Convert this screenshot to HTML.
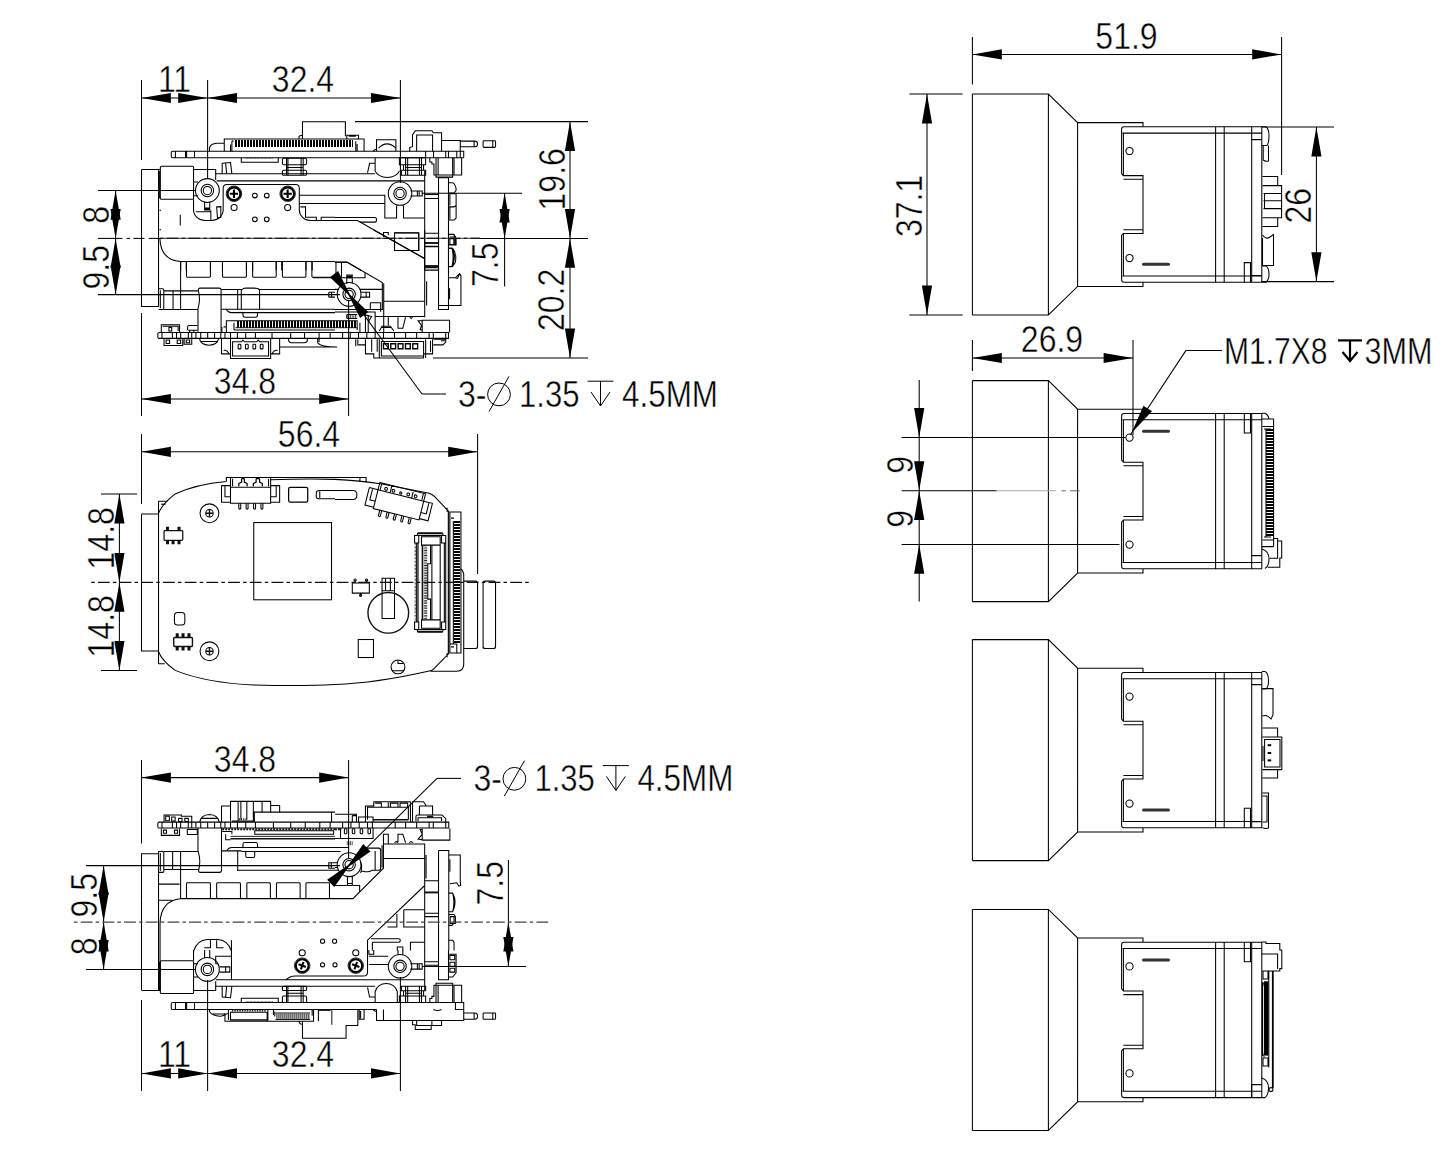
<!DOCTYPE html>
<html lang="en">
<head>
<meta charset="utf-8">
<title>Dimension drawing</title>
<style>
html,body{margin:0;padding:0;background:#fff;}
body{width:1445px;height:1157px;overflow:hidden;}
svg{display:block;}
svg text{font-family:"Liberation Sans","Noto Sans CJK SC",sans-serif;fill:#000;stroke:#fff;stroke-width:0.45px;paint-order:fill stroke;}
.l{fill:none;stroke:#000;}
.f{fill:#000;stroke:none;}
.w{fill:#fff;stroke:#000;}
</style>
</head>
<body>
<svg width="1445" height="1157" viewBox="0 0 1445 1157">
<rect x="0" y="0" width="1445" height="1157" fill="#fff"/>
<!-- 10_v1a.svg -->
<g class="l" transform="translate(135,110) scale(0.138408)" stroke-width="7.6">
<!-- lens flange + front block -->
<path d="M47,430 H180 M47,430 V1420 H170 M170,430 V1420"/>
<rect x="183" y="407" width="240" height="238" rx="8"/>
<path d="M176,440 V640 M183,520 H176 M183,545 H176 M176,725 H188 M176,865 H188"/>
<path d="M423,430 H583 V505 M423,520 H455 M423,620 H455 M423,645 V720 A85,78 0 0 0 508,798 H552 A85,78 0 0 0 637,720 V565 Q637,538 664,538 H1160 Q1187,538 1187,565 V720 A80,78 0 0 0 1267,798 H1445"/>
<circle cx="523" cy="582" r="86"/>
<circle cx="523" cy="582" r="45"/>
<circle cx="523" cy="582" r="30"/>
<path d="M503,665 V722 H540 V665 M503,708 H540 M503,715 H540 M548,725 V798 M440,735 H548 M590,700 L620,698 V775 L596,783 Z"/>
<path d="M327,757 V835"/>
<!-- horizontal rails -->
<path d="M583,460 H1445 M590,512 H1445 M1187,616 H1445 M1187,675 H1445"/>
<path d="M1195,700 H1232 V775 H1310 V798 M1345,798 V775 H1445"/>
<!-- PCB -->
<path d="M272,298 H1445 M272,345 H1445 M272,298 Q262,298 262,308 V335 Q262,345 272,345 M292,300 V343 M365,300 V343 M373,300 V343 M430,300 V343"/>
<!-- connector on top -->
<path d="M645,298 V210 H1445 M538,298 V275 Q545,243 590,240 H645 M690,250 V298 M700,225 V298 M700,225 H712 M1210,210 V85 H1445 M1185,210 V192 Q1190,183 1210,185"/>
<!-- under pcb -->
<path d="M768,345 V378 H1035 V345"/>
<path d="M1075,348 H1230 Q1240,348 1240,358 V385 Q1240,395 1230,395 H1075 Q1065,395 1065,385 V358 Q1065,348 1075,348 Z M1075,435 H1230 Q1240,435 1240,445 V462 Q1240,472 1230,472 H1075 Q1065,472 1065,462 V445 Q1065,435 1075,435 Z M1095,348 V472 M1105,348 V472 M1200,348 V472 M1215,348 V472 M1095,415 H1215"/>
<path d="M630,460 V385 L690,380 L700,460 M655,385 L662,460"/>
<!-- small holes -->
<circle cx="866" cy="618" r="17"/><circle cx="952" cy="618" r="17"/>
<circle cx="866" cy="790" r="17"/><circle cx="952" cy="790" r="17"/>
<circle cx="716" cy="705" r="22"/><circle cx="1103" cy="705" r="22"/>
<!-- inner body -->
<path d="M180,928 Q185,1085 330,1095 H1445"/>
<path d="M330,1095 V1160 M370,1095 V1160 M545,1095 V1160 M632,1095 V1160 M805,1095 V1160 M850,1095 V1160 M1020,1095 V1160 M1060,1095 V1160 M1235,1095 V1160 M1280,1095 V1160"/>
</g>
<!-- comb teeth of top connector -->
<g transform="translate(135,110) scale(0.138408)">
<line x1="722.5" y1="241" x2="1445" y2="241" stroke="#000" stroke-width="47" stroke-dasharray="14.45 7.225" shape-rendering="crispEdges"/>
<line x1="800" y1="349" x2="1000" y2="349" stroke="#333" stroke-width="8" stroke-dasharray="5 5"/>
</g>
<!-- screws -->
<g transform="translate(135,110) scale(0.138408)" fill="none" stroke="#1a1a1a">
<g id="scr1"><circle cx="715" cy="605" r="56" stroke-width="7"/><circle cx="715" cy="605" r="46" stroke-width="15" stroke="#000"/><path d="M715,575 V635 M685,605 H745" stroke-width="15" stroke="#000"/></g>
<g><circle cx="1103" cy="605" r="56" stroke-width="7"/><circle cx="1103" cy="605" r="46" stroke-width="15" stroke="#000"/><path d="M1103,575 V635 M1073,605 H1133" stroke-width="15" stroke="#000"/></g>
</g>
<!-- 11_v1b.svg -->
<g class="l" transform="translate(335,110) scale(0.138408)" stroke-width="7.6">
<!-- top rect right part, connector end -->
<path d="M0,85 H75 V190 M0,210 H210 V298 M85,210 V183 H170 V210 M100,190 H150 M150,225 V298 M160,245 V298"/>
<!-- pcb -->
<path d="M0,298 H930 V345 M0,345 H930 M655,298 V345 M712,298 V345 M800,298 V345 M820,298 V345 M880,298 V345 M905,298 V345"/>
<!-- dome component -->
<path d="M300,298 V215 H440 V298 M275,298 L290,285 H300 M315,275 Q375,215 440,275"/>
<!-- tall component -->
<path d="M540,298 V270 L560,265 V180 L580,150 H700 L710,165 H770 V298 M590,298 V180 H705 V298"/>
<path d="M770,220 H905 V298 M905,225 H1010 Q1030,225 1030,245 Q1030,265 1010,265 H905 M1005,225 V265"/>
<rect x="1070" y="222" width="90" height="48" rx="6"/>
<path d="M1140,222 V270"/>
<!-- below pcb: semicircle -->
<path d="M290,345 V440 A90,62 0 0 0 465,440 M235,455 L250,385 H290 M0,460 H290 M0,512 H648"/>
<!-- standoff -->
<path d="M465,345 H655 V395 H465 Z M480,435 H655 V472 H480 Z M510,345 V472 M525,345 V472 M610,345 V472 M625,345 V472 M495,395 V435 M640,395 V435 M510,415 H625"/>
<!-- right component under pcb -->
<path d="M685,345 V375 H700 V390 H715 V470 H915 V345 M730,345 V485 H850 V345 M745,345 V470 M860,345 V470"/>
<!-- rear plate -->
<path d="M648,440 V1160 M748,490 V1160 M820,490 V1160 M748,490 H820 M648,610 H745 M648,640 H745 M648,890 H745 M648,960 H745 M648,985 H745 M648,1125 H745 M648,1140 H745"/>
<!-- side bumps -->
<path d="M820,525 H850 Q875,540 875,580 L860,600 H820 M820,605 H875 V690 L860,700 H820 M875,690 V780 L860,795 H820 M830,700 V790 M830,610 V690 M820,900 H860 L875,930 V975 H820 M830,930 V975 H860 V930 Z M820,1000 H850 Q880,1030 870,1100 L850,1130 H820 M850,1000 Q870,1050 850,1130"/>
<!-- boss 2 -->
<circle cx="470" cy="603" r="85"/><circle cx="470" cy="603" r="45"/><circle cx="470" cy="603" r="30"/>
<path d="M545,585 H630 V622 H545 M595,585 V622 M608,585 V622"/>
<path d="M0,616 H360 V780 H445 V690 M495,690 V780 H648 M0,675 H360"/>
<path d="M0,776 H290 Q300,776 300,793 Q300,810 290,810 H180 M0,798 H166"/>
<path d="M165,800 L648,1075"/>
<path d="M430,888 H605 V1015 H430 Z M350,920 V885 H385 V905"/>
<path d="M0,1100 H90 L190,1160"/>
</g>
<g transform="translate(335,110) scale(0.138408)">
<line x1="0" y1="241" x2="130" y2="241" stroke="#000" stroke-width="47" stroke-dasharray="14.45 7.225" stroke-dashoffset="7.225" shape-rendering="crispEdges"/>
</g>
<!-- 12_v1c.svg -->
<g class="l" transform="translate(135,230) scale(0.138408)" stroke-width="7.6">
<!-- flange bottom & thread -->
<path d="M47,552 H170 M170,425 H200 Q208,425 208,433 V566 Q208,574 200,574 H170 M183,435 V565 M208,440 H455 M208,574 H455 M275,440 V574 M329.5,232 V574"/>
<!-- windows -->
<path d="M372,232 V335 Q372,342 379,342 H538 Q545,342 545,335 V232 M632,232 V335 Q632,342 639,342 H798 Q805,342 805,335 V232 M850,232 V335 Q850,342 857,342 H1013 Q1020,342 1020,335 V232 M1065,232 V335 Q1065,342 1072,342 H1228 Q1235,342 1235,335 V232 M1278,232 V335 Q1278,342 1285,342 H1445"/>
<!-- post -->
<path d="M455,735 V570 Q475,500 458,440 Q456,420 470,420 H608 Q622,420 622,434 V735"/>
<!-- bar -->
<path d="M622,430 H775 M895,430 H1445 M622,572 H1445 M690,597 H1445 M660,572 Q670,595 700,597 M742,430 V572 M768,430 V572 M775,430 Q780,420 800,420 H860 Q890,420 900,432 V572 M780,597 V615 Q780,630 795,630 H870 Q885,630 885,615 V597"/>
<!-- bottom connector -->
<path d="M660,740 V655 H1445 M715,670 V722 M715,722 H1445 M628,700 V740 M640,700 H655"/>
<!-- pcb bottom -->
<path d="M175,740 H1445 M175,783 H1445 M175,740 Q165,740 165,750 V773 Q165,783 175,783"/>
<path d="M195,740 V783 M270,740 V783 M300,740 V783 M330,740 V783 M385,740 V783 M410,740 V783 M440,740 V783 M475,740 V783 M525,740 V783 M575,740 V783 M620,740 V783 M650,740 V783 M690,740 V783 M740,740 V783 M800,740 V783 M870,740 V783 M990,740 V783 M1125,740 V783 M1225,740 V783 M1330,740 V783 M1410,740 V783"/>
<!-- small comps on pcb -->
<path d="M190,740 V685 H322 V740 M200,695 H312 V730 M245,705 H265 V730 H245 Z M380,725 V700 Q380,690 392,690 H450 M385,725 H450 M395,725 V740 M425,725 V740"/>
<path d="M210,783 V835 H345 V783 M225,795 H250 V820 H225 Z M305,795 H330 V820 H305 Z M355,783 V825 H410 V783 M370,795 H395 V815 H370 Z M465,783 Q475,830 535,832 Q595,830 605,783 M470,805 H600"/>
<!-- JST connector -->
<path d="M625,783 V895 H690 V928 H980 V895 H1045 V783 M690,783 V895 M980,783 V895 M705,910 V808 H770 L780,795 L790,808 H880 L890,795 L900,808 H965 V910 Z M640,870 Q665,865 680,895 M1030,870 Q1005,865 990,895"/>
<rect x="745" y="825" width="20" height="34" rx="5"/><rect x="798" y="825" width="20" height="34" rx="5"/><rect x="852" y="825" width="20" height="34" rx="5"/><rect x="905" y="825" width="20" height="34" rx="5"/>
<path d="M1045,845 H1445 M1110,783 V800 Q1115,815 1130,815 H1225 Q1240,815 1245,800 V783 M1320,783 V815 Q1340,845 1460,845 M1330,783 V810"/>
<!-- right: pin near boss -->
<path d="M1400,450 H1445 M1400,485 H1445 M1400,450 V485 M1420,450 V485"/>
</g>
<g transform="translate(135,230) scale(0.138408)">
<line x1="737" y1="682" x2="1445" y2="682" stroke="#000" stroke-width="46" stroke-dasharray="14.45 7.225" shape-rendering="crispEdges"/>
<line x1="725" y1="706" x2="1445" y2="706" stroke="#1a1a1a" stroke-width="7"/>
</g>
<!-- 13_v1d.svg -->
<g class="l" transform="translate(335,230) scale(0.138408)" stroke-width="7.6">
<!-- diagonal continuing, rect -->
<path d="M280,0 L648,205 M430,20 H605 V148 H430 Z"/>
<!-- rear plate lower part -->
<path d="M648,0 V630 M748,0 V575 H820 V0 M748,545 H820 M648,95 H745 M648,120 H745 M648,290 H745 M662,370 V545"/>
<!-- side bumps / clip -->
<path d="M820,30 H855 L870,50 V105 H820 M830,50 H860 V105 M820,130 H845 Q880,190 845,265 H820 M845,130 Q862,195 845,265 M820,345 H870 L900,315 L910,330 V545 H820 M870,345 L885,350 L900,318 M828,420 V500"/>
<!-- bracket plate with diagonal -->
<path d="M0,232 H85 L342,380 V575 H0 M352,385 V740 M0,592 H290 V740 M47,237 V338 Q47,345 54,345 H217 V310 M-160,345 H0 Q7,345 7,338 V237"/>
<path d="M0,429 H25 M180,429 H342"/>
<!-- boss 3 -->
<circle cx="102" cy="465" r="86"/><circle cx="102" cy="465" r="45"/><circle cx="102" cy="465" r="30"/>
<path d="M185,450 H250 V485 H185 M225,450 V485 M85,388 V325 H125 V388 M85,335 H125 M85,345 H125"/>
<path d="M255,525 H330 V590 M255,525 V575"/>
<!-- block right of bracket -->
<path d="M352,515 H648 M290,625 H648"/>
<path d="M385,625 V690 M455,630 V710 H490 L510,630 M540,630 L550,640 L560,630 M320,730 L340,695 H400 L425,730 M335,705 H405"/>
<!-- connector end -->
<path d="M0,655 H160 V722 M180,670 V740 M220,600 V740 M240,620 V740 M85,610 H160 M85,640 H160 M85,610 V640 M225,615 L265,625 L240,665"/>
<!-- pcb -->
<path d="M0,740 H820 V783 H0 M55,740 V783 M110,740 V783 M170,740 V783 M230,740 V783 M290,740 V783 M350,740 V783 M430,740 V783 M510,740 V783 M590,740 V783 M680,740 V783 M710,740 V783 M800,740 V783"/>
<path d="M630,740 V652 H828 V740 M630,655 H600 L625,690 L615,720 L630,725"/>
<!-- 5 pin connector -->
<path d="M220,790 V895 H280 V925 H640 V895 H705 V790 M150,790 V840 M165,790 V830 H220 M320,790 V925 M655,790 V925 M335,805 H640 V910 H335 Z M265,790 V880 M305,790 V880 M690,800 V880"/>
<path d="M350,822 H385 V858 H350 Z M403,822 H438 V858 H403 Z M456,822 H491 V858 H456 Z M509,822 H544 V858 H509 Z M562,822 H597 V858 H562 Z" stroke-width="10"/>
<path d="M710,790 H800 V810 L780,830 H710 M765,800 H795"/>
</g>
<g transform="translate(335,230) scale(0.138408)">
<line x1="0" y1="682" x2="160" y2="682" stroke="#000" stroke-width="46" stroke-dasharray="14.45 7.225" stroke-dashoffset="14.45" shape-rendering="crispEdges"/>
<line x1="0" y1="706" x2="160" y2="706" stroke="#1a1a1a" stroke-width="7"/>
<line x1="85" y1="625" x2="160" y2="625" stroke="#333" stroke-width="26" stroke-dasharray="6 6"/>
<line x1="648" y1="265" x2="745" y2="265" stroke="#111" stroke-width="18"/>
</g>
<!-- 20_right.svg -->
<g class="l" stroke-width="1.05">
<path class="l" d="M972.4,94.0 H1048.4 L1077.6,122.6 H1143 V126.8 M972.4,315.0 H1048.4 L1077.6,286.4 H1143 V282.2 M972.4,94.0 V315.0 M1048.4,94.0 V315.0 M1077.6,122.6 V286.4 M1262,126.8 H1124 Q1121.6,126.8 1121.6,129.3 V173.5 L1123.4,175.6 H1143 V233.4 H1123.4 L1121.6,235.5 V279.7 Q1121.6,282.2 1124,282.2 H1262 M1122.5,133.1 H1261.8 M1122.5,275.9 H1261.8 M1123.4,133.3 V175.6 M1123.4,233.4 V275.7 M1123.4,179.2 H1143 M1123.4,229.8 H1143 M1215.6,126.8 V282.2 M1224.2,126.8 V282.2 M1251.7,126.8 V282.2 M1261.8,126.8 V282.2"/>
<circle class="l" cx="1129.5" cy="151.0" r="3.6"/>
<circle class="l" cx="1129.5" cy="258.0" r="3.6"/>
<line x1="1143.5" y1="264.3" x2="1168.5" y2="264.3" stroke="#333" stroke-width="3" stroke-linecap="round"/>
<path class="l" d="M1244.3,282.2 V262.6 H1250.5 V282.2"/>
<path class="l" d="M1251.7,139.6 H1261.8 M1261.8,126.8 H1265.5 Q1269,128 1269,136 Q1269,143 1267,145.5 H1261.8 M1263.2,145.5 V160 Q1265,161.6 1268.5,161 V145.5 M1262.5,176.4 H1277.7 V185.6 H1281.6 V217.8 H1277.7 V226.4 H1262.5 M1262.5,185.6 H1277.7 M1262.5,217.8 H1277.7 M1263.5,193.5 H1281.6 M1263.5,200.7 H1281.6 M1263.5,208.6 H1281.6 M1264.5,193.5 V208.6 M1262.5,235 Q1266,240 1270,237 L1273.5,234.5 V265.5 H1262.5 M1262.5,238 V265 M1251.7,275.4 H1261.8 M1261.8,265.9 H1266 Q1269,268 1269,274 Q1269,280 1266,282.3 H1261.8"/>
<path class="l" d="M972.4,380.6 H1048.4 L1077.6,409.2 H1143 V413.4 M972.4,601.6 H1048.4 L1077.6,573.0 H1143 V568.8 M972.4,380.6 V601.6 M1048.4,380.6 V601.6 M1077.6,409.2 V573.0 M1262,413.4 H1124 Q1121.6,413.4 1121.6,415.9 V460.1 L1123.4,462.2 H1143 V520.0 H1123.4 L1121.6,522.1 V566.3 Q1121.6,568.8 1124,568.8 H1262 M1122.5,419.7 H1261.8 M1122.5,562.5 H1261.8 M1123.4,419.9 V462.2 M1123.4,520.0 V562.3 M1123.4,465.8 H1143 M1123.4,516.4 H1143 M1215.6,413.4 V568.8 M1224.2,413.4 V568.8 M1251.7,413.4 V568.8 M1261.8,413.4 V568.8"/>
<circle class="l" cx="1129.5" cy="437.6" r="3.6"/>
<circle class="l" cx="1129.5" cy="544.6" r="3.6"/>
<line x1="1143.5" y1="431.3" x2="1168.5" y2="431.3" stroke="#333" stroke-width="3" stroke-linecap="round"/>
<path class="l" d="M1244.3,413.4 V433.0 H1250.5 V413.4"/>
<path class="l" d="M1261.8,413.2 H1265 Q1268.5,415 1269,419 H1273.6 V546.6 M1261.8,419 H1269 M1262.5,426.5 H1273.6 M1264,429 H1271 M1266,429 V537 M1262.5,540 H1273.6 M1264,537 H1271 M1273.6,538.5 H1277.6 V541 H1281.7 V558 H1279.8 V567.3 H1267.6 M1261.8,546.6 H1273.6 M1277.6,541 V558.2 H1269.8 M1261.8,549 Q1269,551 1269,559 Q1269,566 1265,568.5 M1251.7,555.6 H1261.8"/>
<line x1="1269.8" y1="429" x2="1269.8" y2="537" stroke="#000" stroke-width="7.4" stroke-dasharray="2 1" shape-rendering="crispEdges"/>
<path class="l" d="M972.4,639.6 H1048.4 L1077.6,668.2 H1143 V672.4 M972.4,860.6 H1048.4 L1077.6,832.0 H1143 V827.8 M972.4,639.6 V860.6 M1048.4,639.6 V860.6 M1077.6,668.2 V832.0 M1262,672.4 H1124 Q1121.6,672.4 1121.6,674.9 V719.1 L1123.4,721.2 H1143 V779.0 H1123.4 L1121.6,781.1 V825.3 Q1121.6,827.8 1124,827.8 H1262 M1122.5,678.7 H1261.8 M1122.5,821.5 H1261.8 M1123.4,678.9 V721.2 M1123.4,779.0 V821.3 M1123.4,724.8 H1143 M1123.4,775.4 H1143 M1215.6,672.4 V827.8 M1224.2,672.4 V827.8 M1251.7,672.4 V827.8 M1261.8,672.4 V827.8"/>
<circle class="l" cx="1129.5" cy="696.6" r="3.6"/>
<circle class="l" cx="1129.5" cy="803.6" r="3.6"/>
<line x1="1143.5" y1="809.9" x2="1168.5" y2="809.9" stroke="#333" stroke-width="3" stroke-linecap="round"/>
<path class="l" d="M1244.3,827.8 V808.2 H1250.5 V827.8"/>
<path class="l" d="M1251.7,684.6 H1261.8 M1261.8,671.5 H1265 Q1268.5,673 1268.5,681 Q1268.5,687 1266,689 H1261.8 M1262.4,688.6 H1273 V715 L1271,719 Q1267,714 1262.4,716 M1262.4,728 H1277.6 V737 H1281.8 V769.6 H1277.6 V778 H1262.4 M1262.4,737 H1277.6 M1262.4,769.6 H1277.6 M1264.6,739.5 H1280 V767 H1264.6 Z M1263,746 V761 M1262.4,793 H1268.5 V828 Q1265,829 1262.4,827.6 M1262.4,796 H1267 V822 H1262.4 M1251.7,821.6 H1261.8"/>
<rect class="f" x="1267.6" y="744.2" width="3.6" height="2"/>
<rect class="f" x="1267.6" y="752.0" width="3.6" height="2"/>
<rect class="f" x="1267.6" y="759.4" width="3.6" height="2"/>
<path class="l" d="M972.4,909.4 H1048.4 L1077.6,938.0 H1143 V942.2 M972.4,1130.4 H1048.4 L1077.6,1101.8 H1143 V1097.6 M972.4,909.4 V1130.4 M1048.4,909.4 V1130.4 M1077.6,938.0 V1101.8 M1262,942.2 H1124 Q1121.6,942.2 1121.6,944.7 V988.9 L1123.4,991.0 H1143 V1048.8 H1123.4 L1121.6,1050.9 V1095.1 Q1121.6,1097.6 1124,1097.6 H1262 M1122.5,948.5 H1261.8 M1122.5,1091.3 H1261.8 M1123.4,948.7 V991.0 M1123.4,1048.8 V1091.1 M1123.4,994.6 H1143 M1123.4,1045.2 H1143 M1215.6,942.2 V1097.6 M1224.2,942.2 V1097.6 M1251.7,942.2 V1097.6 M1261.8,942.2 V1097.6"/>
<circle class="l" cx="1129.5" cy="966.4" r="3.6"/>
<circle class="l" cx="1129.5" cy="1073.4" r="3.6"/>
<line x1="1143.5" y1="960.1" x2="1168.5" y2="960.1" stroke="#333" stroke-width="3" stroke-linecap="round"/>
<path class="l" d="M1244.3,942.2 V961.8 H1250.5 V942.2"/>
<path class="l" d="M1261.8,942 H1266 V943.4 H1279.8 V950 H1281.8 V968.6 H1279.8 V971 H1262.4 M1261.8,954 H1277.6 V969 M1263,971 H1268 V979 H1263 Z M1263,1058 H1268 V1066 H1263 Z M1262.4,982 V1056 M1264.4,982 Q1262.6,984 1262.6,987 V1052 Q1262.6,1055 1264.4,1057 M1268.8,971 V1067.4 M1261.8,1078 Q1268.5,1080 1268.5,1088 Q1268.5,1095 1265,1097.6 H1261.8 M1251.7,1084.6 H1261.8 M1251.7,1084.6 V1097"/>
<line x1="1272.8" y1="971" x2="1272.8" y2="1088" stroke="#000" stroke-width="1.8"/>
<rect class="f" x="1264" y="981.3" width="4.4" height="74.3"/>
<circle class="w" cx="1271" cy="1089.6" r="2"/>
</g>
<!-- 30_v3a.svg -->
<g class="l" transform="translate(135,790) scale(0.138408)" stroke-width="7.6">
<!-- flange, thread -->
<path d="M47,1445 V460 H170 M170,440 V1445 M181,960 V1445 M170,445 H200 Q208,445 208,453 V587 Q208,595 200,595 H170 M183,455 V585 M208,445 H455 M208,575 H460 M272,445 V575 M329.5,441 V785 M170,680 H322 M170,797 H270"/>
<!-- inner curve & windows -->
<path d="M181,960 Q186,800 330,785 H1445"/>
<path d="M372,785 V677 Q372,670 379,670 H538 Q545,670 545,677 V785 M590,785 V677 Q590,670 597,670 H755 Q762,670 762,677 V785 M808,785 V677 Q808,670 815,670 H971 Q978,670 978,677 V785 M1022,785 V677 Q1022,670 1029,670 H1186 Q1193,670 1193,677 V785 M1235,785 V677 Q1235,670 1242,670 H1398 Q1405,670 1405,677 V785"/>
<!-- post -->
<path d="M455,275 V440 Q478,510 460,580 Q458,595 472,595 H610 Q625,595 625,580 V275"/>
<!-- bars -->
<path d="M625,440 H770 M665,440 Q672,417 700,415 H1445 M770,445 H1445 M745,580 H1445 M742,440 V585 M780,415 V390 Q780,380 792,380 H873 Q885,380 885,390 V415 M800,445 V475 Q800,488 812,488 H853 Q865,488 865,475 V445"/>
<!-- pcb -->
<path d="M175,232 H1445 M175,275 H1445 M175,232 Q165,232 165,242 V265 Q165,275 175,275"/>
<path d="M195,232 V275 M270,232 V275 M300,232 V275 M330,232 V275 M385,232 V275 M410,232 V275 M440,232 V275 M475,232 V275 M525,232 V275 M575,232 V275 M620,232 V275 M650,232 V275 M690,232 V275 M740,232 V275 M800,232 V275 M870,232 V275 M1000,232 V275 M1125,232 V275 M1230,232 V275 M1335,232 V275 M1410,232 V275"/>
<!-- comps above pcb -->
<path d="M210,232 V180 H335 V190 H410 V232 M222,190 H248 V222 H222 Z M265,195 H290 V225 H265 Z M315,205 H340 V228 H315 Z M360,205 H385 V228 H360 Z M468,232 Q475,180 538,177 Q600,180 608,232 M475,205 H600"/>
<path d="M625,232 V115 H690 V82 H980 V112 H1045 V160 M690,115 V225 M745,85 V225 M765,85 V215 M808,85 V215 M855,85 V225 M918,85 V160 M980,112 V160 M862,232 V160 H1420 V232 M700,225 H855"/>
<!-- under pcb -->
<path d="M190,280 V328 H322 V280 M205,290 H228 V312 H205 Z M285,290 H308 V312 H285 Z M378,322 V285 H450 V322 Z M630,300 H700 V320 M655,320 V360 H690 M865,295 H1435 V320 H865 Z"/>
<!-- boss pin -->
<path d="M1445,525 H1400 V565 H1445 M1418,525 V565"/>
<!-- bracket top (U) -->
<path d="M425,1160 Q450,1085 520,1080 H600 Q670,1085 695,1160 M545,1080 V1140 H500 M590,1085 V1140 H640"/>
<circle cx="1355" cy="1092" r="15"/>
</g>
<g transform="translate(135,790) scale(0.138408)">
<line x1="630" y1="284" x2="1445" y2="284" stroke="#111" stroke-width="14" stroke-dasharray="14 7.7"/>
<line x1="690" y1="352" x2="1445" y2="352" stroke="#111" stroke-width="12"/>
<line x1="690" y1="335" x2="1445" y2="335" stroke="#1a1a1a" stroke-width="7"/>
<line x1="750" y1="212" x2="810" y2="212" stroke="#222" stroke-width="14" stroke-dasharray="8 8"/>
</g>
<!-- 31_v3b.svg -->
<g class="l" transform="translate(335,790) scale(0.138408)" stroke-width="7.6">
<!-- pcb -->
<path d="M0,232 H822 V275 H0 M55,232 V275 M115,232 V275 M175,232 V275 M235,232 V275 M270,232 V275 M435,232 V275 M510,232 V275 M590,232 V275 M680,232 V275 M710,232 V275 M800,232 V275"/>
<!-- above pcb -->
<path d="M0,160 H-25 M0,175 H155 V232 M125,185 V232 M125,185 H155 M170,232 V195 H275 V232"/>
<path d="M220,232 V115 H280 V85 H545 V232 M235,215 V125 H530 V215 M335,90 V125 M385,90 V125 M400,90 V125 M455,90 V125 M470,90 V125 M525,90 V125 M290,95 H335 M400,95 H455 M470,95 H525"/>
<path d="M560,232 V85 H640 L660,115 H705 V180 M610,115 V180 M610,115 H660 M585,225 V190 Q585,180 597,180 H770 Q780,180 782,190 L800,205 V232 M600,225 V200 H770 V225"/>
<!-- under pcb -->
<path d="M0,350 H275 V275 M40,275 V350 M350,390 V320 H385 V390 M455,380 V320 H490 L510,380 M430,380 L445,372 L455,380 M535,380 L550,372 L565,380"/>
<path d="M630,278 V362 H830 V278 M630,285 H615 L630,320 L600,355 L630,360"/>
<rect x="68" y="280" width="18" height="36" rx="6"/><rect x="125" y="280" width="18" height="36" rx="6"/><rect x="182" y="280" width="18" height="36" rx="6"/><rect x="238" y="280" width="18" height="36" rx="6"/>
<path d="M0,415 H100 M0,445 H40 M0,580 H25"/>
<!-- boss -->
<circle cx="102" cy="540" r="86"/><circle cx="102" cy="540" r="45"/><circle cx="102" cy="540" r="30"/>
<path d="M90,622 V690 H125 V622 M90,675 H125 M0,525 H22 M0,560 H22"/>
<path d="M230,420 H315 Q330,420 330,435 V565 Q330,580 315,580 H265 Q250,595 220,590 L190,585 M290,440 V580 M185,600 Q200,560 185,520"/>
<!-- bracket small diagonal -->
<path d="M0,690 H85 M130,690 H178 V740 M0,785 H130 L350,565 V390 M340,400 V560"/>
<!-- block -->
<path d="M350,390 H648 V690 M350,495 H648 M658,470 V640"/>
<!-- big diagonal -->
<path d="M648,690 L235,1085 V1160 M270,1100 V1160 M260,1075 H460 Q472,1075 472,1088 Q472,1100 460,1100 H270"/>
<!-- rear plate -->
<path d="M648,690 V1160 M748,437 V1160 M748,437 H822 V1160 M648,655 H745 M648,890 H745 M648,915 H745"/>
<!-- clip and side bumps -->
<path d="M822,470 H905 V660 L908,690 L895,695 L880,670 L830,678 M830,500 V590 M822,745 H850 Q885,812 850,880 H822 M850,745 Q868,812 850,880 M822,900 H860 L870,915 V965 H855 L845,978 H822 M832,915 H860 V965 H832 Z M822,1085 H850 L860,1100 V1160"/>
<circle cx="-3" cy="1092" r="15"/>
<!-- rects -->
<path d="M497,865 H648 M497,865 V990 H648 M447,895 V990 H380 M545,1160 V1100 H648 M450,1160 V1135 H490 V1160"/>
</g>
<g transform="translate(335,790) scale(0.138408)">
<line x1="275" y1="215" x2="530" y2="215" stroke="#111" stroke-width="12"/>
<line x1="648" y1="740" x2="745" y2="740" stroke="#111" stroke-width="14"/>
<line x1="85" y1="385" x2="130" y2="385" stroke="#333" stroke-width="28" stroke-dasharray="6 6"/>
<line x1="0" y1="284" x2="45" y2="284" stroke="#111" stroke-width="14" stroke-dasharray="14 7.7"/>
<line x1="665" y1="192" x2="710" y2="192" stroke="#111" stroke-width="14"/>
</g>
<!-- 32_v3c.svg -->
<g class="l" transform="translate(135,950) scale(0.138408)" stroke-width="7.6">
<!-- flange + block -->
<path d="M47,293 H183 M176,85 V290"/>
<rect x="183" y="77" width="240" height="238" rx="8"/>
<path d="M423,293 H583 V225 M423,100 H455 M423,195 H455 M423,77 V0 M583,100 V45 H697 M583,100 H600 M697,-70 V215 H1090 L1120,195 Q1135,188 1160,188 H1445 M1090,215 H1445"/>
<circle cx="523" cy="140" r="86"/><circle cx="523" cy="140" r="45"/><circle cx="523" cy="140" r="30"/>
<path d="M610,122 H685 V160 H610 M655,122 V160 M503,58 V0 M540,58 V0"/>
<!-- rails -->
<path d="M583,262 H1445 M583,215 H697"/>
<!-- pcb -->
<path d="M272,380 H1445 M272,430 H1445 M272,380 Q262,380 262,390 V420 Q262,430 272,430 M292,382 V428 M365,382 V428 M373,382 V428 M430,382 V428"/>
<!-- bracket, rect, standoff -->
<path d="M630,262 V340 L690,345 L700,262 M655,340 L662,262 M768,380 V348 H1035 V380"/>
<path d="M1075,262 H1230 Q1240,262 1240,270 V285 Q1240,293 1230,293 H1075 Q1065,293 1065,285 V270 Q1065,262 1075,262 Z M1075,333 H1230 Q1240,333 1240,343 V380 H1065 V343 Q1065,333 1075,333 Z M1095,262 V380 M1105,262 V380 M1200,262 V380 M1215,262 V380 M1095,312 H1215"/>
<!-- under pcb -->
<path d="M538,430 V445 Q560,480 620,478 Q660,470 670,455 M560,462 H650"/>
<path d="M650,455 V515 H960 V430 M675,430 V505 M690,450 H955 V505 H690 Z M1000,430 V470 M1010,445 V480 M1280,430 V475 M1290,430 V515 H960 M1185,515 Q1190,540 1210,535 M1210,515 V638 H1445 M1325,430 V515"/>
<!-- holes -->
<circle cx="1208" cy="20" r="22"/><circle cx="1355" cy="107" r="15"/>
</g>
<g transform="translate(135,950) scale(0.138408)" fill="none" stroke="#1a1a1a">
<line x1="800" y1="374" x2="1000" y2="374" stroke="#333" stroke-width="8" stroke-dasharray="5 5"/>
<line x1="700" y1="438" x2="950" y2="438" stroke="#222" stroke-width="12" stroke-dasharray="10 8"/>
<line x1="1022" y1="478" x2="1262" y2="478" stroke="#111" stroke-width="40" stroke-dasharray="7.2 7.2"/>
<path d="M1015,455 H1265 M1015,502 H1265" stroke-width="8"/>
<line x1="1325" y1="434" x2="1412" y2="434" stroke="#111" stroke-width="12"/>
<line x1="1422" y1="430" x2="1422" y2="540" stroke="#1a1a1a" stroke-width="7.6"/>
<circle cx="1208" cy="113" r="56" stroke-width="7"/><circle cx="1208" cy="113" r="46" stroke-width="15" stroke="#000"/><path d="M1208,85 V141 M1180,113 H1236" stroke-width="15" stroke="#000" transform="rotate(20 1208 113)"/>
</g>
<!-- 33_v3d.svg -->
<g class="l" transform="translate(335,950) scale(0.138408)" stroke-width="7.6">
<!-- bracket end + rails -->
<path d="M0,188 H205 Q235,188 235,160 V0 M0,215 H650 M0,262 H290 M245,45 H385 M245,105 H385 M245,0 V30 H280 V0"/>
<circle cx="150" cy="20" r="22"/><circle cx="0" cy="107" r="15"/>
<!-- boss -->
<circle cx="470" cy="118" r="85"/><circle cx="470" cy="118" r="45"/><circle cx="470" cy="118" r="30"/>
<path d="M545,100 H630 V138 H545 M595,100 V138 M608,100 V138 M455,35 V0 M490,35 V0"/>
<!-- arch -->
<path d="M290,380 V300 A82,75 0 0 1 450,300 V380 M235,270 L250,340 H290"/>
<!-- standoff -->
<path d="M465,333 H655 V380 H465 Z M480,262 H655 V295 H480 Z M510,262 V380 M525,262 V380 M610,262 V380 M625,262 V380 M495,295 V333 M640,295 V333 M510,312 H625"/>
<!-- right comp -->
<path d="M685,380 V350 H700 V335 H715 V255 H915 V380 M730,380 V240 H850 V380 M745,255 V380 M860,255 V380"/>
<!-- rear plate -->
<path d="M648,0 V290 M748,0 V215 H820 V0 M648,85 H745 M648,110 H745"/>
<path d="M820,30 H875 V165 L850,195 H820 M830,40 H865 V70 H830 Z M830,88 H865 V118 H830 Z M830,132 H865 V160 H830 Z"/>
<!-- pcb + block -->
<path d="M0,380 H930 V510 H300 V430 M0,430 H300 M350,430 V510 M870,380 V430 H930 M275,430 L290,442 H300 M710,430 Q740,445 770,430"/>
<path d="M930,455 H1010 Q1030,455 1030,478 Q1030,500 1010,500 H930 M1005,455 V500"/>
<rect x="1070" y="455" width="90" height="46" rx="6"/>
<path d="M1140,455 V501"/>
<path d="M0,638 H80 V545 H165 V430 M175,430 V500 H210 V430 M185,440 V495 M560,510 V540 H580 V575 H695 V545 H770 V510 M590,510 V545 H700 V510"/>
</g>
<g transform="translate(335,950) scale(0.138408)" fill="none" stroke="#1a1a1a">
<circle cx="150" cy="113" r="56" stroke-width="7"/><circle cx="150" cy="113" r="46" stroke-width="15" stroke="#000"/><path d="M150,85 V141 M122,113 H178" stroke-width="15" stroke="#000" transform="rotate(20 150 113)"/>
</g>
<!-- 40_v2.svg -->
<g class="l" transform="translate(135,460) scale(0.138408)" stroke-width="7.6">
<!-- lens front + back strip -->
<path d="M47,390 H170 M47,390 V1380 H170 M170,298 V1472 M170,298 H235 M170,1472 H215"/>
<!-- pcb outline -->
<path d="M170,385 Q195,320 290,245 Q440,175 660,155 M170,1385 Q195,1450 290,1520 Q520,1612 860,1625 Q1200,1635 1445,1622 M660,155 V127 H1445 M980,142 Q1250,135 1445,140"/>
<!-- JST top -->
<path d="M690,127 V312 H980 V127 M690,197 H980 M705,135 V190 M965,135 V190 M625,185 H690 M625,185 V305 H690 M650,190 V265 H690 M980,185 H1045 V305 H980 M1020,190 V265 H980"/>
<path d="M750,190 V170 L770,160 V135 M790,135 V160 L810,170 V190 M855,190 V170 L875,160 V135 M900,135 V160 L920,170 V190 M770,135 H790 M875,135 H900" stroke-width="9"/>
<path d="M750,312 V350 Q757,360 764,350 V312 M803,312 V350 Q810,360 817,350 V312 M857,312 V350 Q864,360 871,350 V312 M910,312 V350 Q917,360 924,350 V312"/>
<!-- screw holes -->
<circle cx="538" cy="385" r="68"/><circle cx="538" cy="385" r="27"/>
<circle cx="538" cy="1382" r="68"/><circle cx="538" cy="1382" r="27"/>
<!-- big square -->
<rect x="858" y="452" width="562" height="558"/>
<rect x="1110" y="197" width="138" height="108" rx="12" stroke-width="9"/>
<path d="M1445,220 H1335 Q1310,220 1310,235 V265 Q1310,280 1335,280 H1445 M1335,225 V275"/>
<rect x="285" y="1102" width="75" height="90" rx="22"/>
</g>
<g transform="translate(135,460) scale(0.138408)" fill="none" stroke="#111">
<path d="M538,360 V410 M513,385 H563 M538,1357 V1407 M513,1382 H563" stroke-width="10"/>
<!-- IC top-left -->
<rect x="210" y="510" width="135" height="70" rx="6" stroke-width="9"/>
<path d="M235,482 V510 M318,482 V510 M235,580 V608 M275,580 V608 M318,580 V608" stroke-width="22"/>
<!-- IC bottom-left -->
<rect x="280" y="1282" width="135" height="65" rx="6" stroke-width="10"/>
<path d="M305,1252 V1282 M347,1252 V1282 M390,1252 V1282 M305,1347 V1377 M347,1347 V1377 M390,1347 V1377" stroke-width="22"/>
<path d="M190,320 H220" stroke-width="10"/>
</g>
<g class="l" transform="translate(335,460) scale(0.138408)" stroke-width="7.6">
<!-- top edges -->
<path d="M0,127 H225 V160 M180,127 V155 M0,140 Q180,148 330,172 L680,240 Q705,250 720,265 L820,370 V1400 L710,1512 Q700,1522 680,1525 Q300,1612 0,1622 M810,345 V375 M810,1395 V1425"/>
<path d="M0,220 H135 Q158,225 158,252 Q158,280 135,285 H0"/>
<!-- outer shell right-bottom -->
<path d="M690,1527 H880 Q930,1522 930,1477 V825 Q925,795 905,785"/>
<!-- right edge connector -->
<path d="M830,375 H910 V1395 H830 Z M830,375 V1395 M838,420 H860 M838,1350 H860 M855,440 V1330 M830,1330 H880 V1395"/>
<!-- two rounded rects -->
<path d="M930,875 H1015 Q1030,875 1030,890 V1345 Q1030,1362 1015,1362 H930 M1070,1362 V890 Q1070,875 1085,875 H1145 Q1160,875 1160,890 V1345 Q1160,1362 1145,1362 H1085 Q1070,1362 1070,1345"/>
<!-- tilted connector -->
<g transform="translate(465,300) rotate(14)">
<path d="M-170,-100 H170 V95 H-170 Z M-170,-45 H170 M-155,-95 V-50 M155,-95 V-50 M-80,-100 V-45 M80,-100 V-45 M-235,-45 H-170 M-235,-45 V85 H-170 M-210,-40 V40 H-170 M170,-45 H235 V85 H170 M210,-40 V40 H170"/>
<path d="M-122,95 V135 Q-115,145 -108,135 V95 M-67,95 V135 Q-60,145 -53,135 V95 M-12,95 V135 Q-5,145 2,135 V95 M43,95 V135 Q50,145 57,135 V95 M98,95 V135 Q105,145 112,135 V95"/>
<circle cx="-115" cy="-65" r="10"/><circle cx="-60" cy="-65" r="10"/><circle cx="-5" cy="-62" r="8"/><circle cx="50" cy="-65" r="10"/><circle cx="105" cy="-65" r="10"/>
</g>
<!-- FPC connector -->
<path d="M605,525 H770 Q780,525 780,535 V545 H595 V535 Q595,525 605,525 Z M575,545 H605 V600 H575 Z M770,545 H800 V600 H770 Z M625,555 H760 V615 H625 Z M590,600 V1170 M600,600 V1170 M690,615 V750 H670 V1005 H690 V1155 M700,615 V1155 M760,615 V1155 M790,600 V1170 M800,600 V1170"/>
<path d="M605,1245 H770 Q780,1245 780,1235 V1225 H595 V1235 Q595,1245 605,1245 Z M575,1225 H605 V1170 H575 Z M770,1225 H800 V1170 H770 Z M625,1215 H760 V1155 H625 Z"/>
<!-- small comp -->
<path d="M125,888 H248 V962 H125 Z M145,868 V888 M228,868 V888 M185,962 V980"/>
<circle cx="145" cy="868" r="8"/><circle cx="228" cy="868" r="8"/><circle cx="185" cy="978" r="8"/>
<!-- crystal -->
<path d="M340,855 H430 V1145 H340 Z M365,855 V945 M400,855 V945 M340,945 H430"/>
<rect x="168" y="1297" width="110" height="130"/>
<circle cx="455" cy="1495" r="50"/>
<path d="M412,1522 H498 M455,1447 V1470 H495"/>
</g>
<g transform="translate(335,460) scale(0.138408)" fill="none" stroke="#111">
<circle cx="385" cy="1104" r="147" stroke-width="10"/>
<line x1="882" y1="440.7" x2="882" y2="1330" stroke="#000" stroke-width="44" stroke-dasharray="14.45 7.225" shape-rendering="crispEdges"/>
<line x1="632" y1="615" x2="632" y2="1155" stroke-width="12"/>
<line x1="655" y1="615" x2="655" y2="1155" stroke-width="22" stroke-dasharray="6 6" stroke="#222"/>
<line x1="580" y1="600" x2="580" y2="1170" stroke-width="10" stroke-dasharray="5 5" stroke="#333"/>
<path d="M598,532 H778 M598,1238 H778" stroke-width="10"/>
<path d="M820,370 V1400" stroke-width="10"/>
</g>
<!-- 50_dims.svg -->
<g class="l" stroke-width="1.05">
<line x1="141.5" y1="80.0" x2="141.5" y2="160.0"/>
<line x1="207.6" y1="80.0" x2="207.6" y2="178.0"/>
<line x1="400.4" y1="80.0" x2="400.4" y2="183.0"/>
<line x1="141.5" y1="98.0" x2="400.4" y2="98.0"/>
<polygon class="f" points="141.5,98.0 170.9,103.1 170.9,92.9"/>
<polygon class="f" points="207.6,98.0 178.2,92.9 178.2,103.1"/>
<polygon class="f" points="207.6,98.0 237.0,103.1 237.0,92.9"/>
<polygon class="f" points="400.4,98.0 371.0,92.9 371.0,103.1"/>
<line x1="98.0" y1="190.4" x2="196.0" y2="190.4"/>
<line x1="98.0" y1="294.6" x2="340.0" y2="294.6"/>
<line x1="115.6" y1="190.4" x2="115.6" y2="294.6"/>
<polygon class="f" points="115.6,190.4 110.5,219.8 120.7,219.8"/>
<polygon class="f" points="115.6,238.4 120.7,209.0 110.5,209.0"/>
<polygon class="f" points="115.6,238.4 110.5,267.8 120.7,267.8"/>
<polygon class="f" points="115.6,294.6 120.7,265.2 110.5,265.2"/>
<line x1="422.0" y1="193.2" x2="522.0" y2="193.2"/>
<line x1="504.6" y1="193.2" x2="504.6" y2="286.6"/>
<polygon class="f" points="504.6,193.2 499.5,222.6 509.7,222.6"/>
<polygon class="f" points="504.6,238.4 509.7,209.0 499.5,209.0"/>
<line x1="355.0" y1="121.6" x2="588.0" y2="121.6"/>
<line x1="433.0" y1="358.0" x2="588.0" y2="358.0"/>
<line x1="570.0" y1="121.6" x2="570.0" y2="358.0"/>
<polygon class="f" points="570.0,121.6 564.9,151.0 575.1,151.0"/>
<polygon class="f" points="570.0,238.4 575.1,209.0 564.9,209.0"/>
<polygon class="f" points="570.0,238.4 564.9,267.8 575.1,267.8"/>
<polygon class="f" points="570.0,358.0 575.1,328.6 564.9,328.6"/>
<line x1="141.5" y1="313.0" x2="141.5" y2="416.0"/>
<line x1="348.6" y1="300.0" x2="348.6" y2="416.0"/>
<line x1="141.5" y1="399.0" x2="348.6" y2="399.0"/>
<polygon class="f" points="141.5,399.0 170.9,404.1 170.9,393.9"/>
<polygon class="f" points="348.6,399.0 319.2,393.9 319.2,404.1"/>
<line x1="349.1" y1="294.6" x2="422.0" y2="394.0"/>
<line x1="422.0" y1="394.0" x2="446.0" y2="394.0"/>
<polygon class="f" points="346.7,291.4 360.1,318.1 368.3,312.0"/>
<polygon class="f" points="351.5,297.8 338.1,271.1 329.9,277.2"/>
<line x1="141.5" y1="434.0" x2="141.5" y2="504.0"/>
<line x1="477.6" y1="434.0" x2="477.6" y2="574.0"/>
<line x1="141.5" y1="451.8" x2="477.6" y2="451.8"/>
<polygon class="f" points="141.5,451.8 170.9,456.9 170.9,446.7"/>
<polygon class="f" points="477.6,451.8 448.2,446.7 448.2,456.9"/>
<line x1="101.0" y1="494.0" x2="137.0" y2="494.0"/>
<line x1="101.0" y1="670.4" x2="137.0" y2="670.4"/>
<line x1="119.4" y1="494.0" x2="119.4" y2="670.4"/>
<polygon class="f" points="119.4,494.0 114.3,523.4 124.5,523.4"/>
<polygon class="f" points="119.4,582.4 124.5,553.0 114.3,553.0"/>
<polygon class="f" points="119.4,582.4 114.3,611.8 124.5,611.8"/>
<polygon class="f" points="119.4,670.4 124.5,641.0 114.3,641.0"/>
<line x1="141.5" y1="760.0" x2="141.5" y2="843.6"/>
<line x1="348.6" y1="760.0" x2="348.6" y2="858.0"/>
<line x1="141.5" y1="777.6" x2="348.6" y2="777.6"/>
<polygon class="f" points="141.5,777.6 170.9,782.7 170.9,772.5"/>
<polygon class="f" points="348.6,777.6 319.2,772.5 319.2,782.7"/>
<line x1="86.0" y1="865.6" x2="340.0" y2="865.6"/>
<line x1="86.0" y1="969.4" x2="196.0" y2="969.4"/>
<line x1="103.6" y1="865.6" x2="103.6" y2="969.4"/>
<polygon class="f" points="103.6,865.6 98.5,895.0 108.7,895.0"/>
<polygon class="f" points="103.6,922.0 108.7,892.6 98.5,892.6"/>
<polygon class="f" points="103.6,922.0 98.5,951.4 108.7,951.4"/>
<polygon class="f" points="103.6,969.4 108.7,940.0 98.5,940.0"/>
<line x1="508.4" y1="860.0" x2="508.4" y2="966.4"/>
<line x1="422.0" y1="966.4" x2="526.0" y2="966.4"/>
<polygon class="f" points="508.4,922.0 503.3,951.4 513.5,951.4"/>
<polygon class="f" points="508.4,966.4 513.5,937.0 503.3,937.0"/>
<line x1="141.5" y1="1000.0" x2="141.5" y2="1091.0"/>
<line x1="207.6" y1="980.0" x2="207.6" y2="1091.0"/>
<line x1="400.4" y1="977.0" x2="400.4" y2="1091.0"/>
<line x1="141.5" y1="1073.4" x2="400.4" y2="1073.4"/>
<polygon class="f" points="141.5,1073.4 170.9,1078.5 170.9,1068.3"/>
<polygon class="f" points="207.6,1073.4 178.2,1068.3 178.2,1078.5"/>
<polygon class="f" points="207.6,1073.4 237.0,1078.5 237.0,1068.3"/>
<polygon class="f" points="400.4,1073.4 371.0,1068.3 371.0,1078.5"/>
<line x1="348.6" y1="865.6" x2="437.0" y2="778.4"/>
<line x1="437.0" y1="778.4" x2="461.0" y2="778.4"/>
<polygon class="f" points="346.0,868.4 370.5,851.4 363.3,844.1"/>
<polygon class="f" points="351.6,862.8 327.1,879.8 334.3,887.1"/>
<line x1="972.4" y1="37.0" x2="972.4" y2="84.4"/>
<line x1="1281.6" y1="37.0" x2="1281.6" y2="175.0"/>
<line x1="972.4" y1="54.4" x2="1281.6" y2="54.4"/>
<polygon class="f" points="972.4,54.4 1001.8,59.5 1001.8,49.3"/>
<polygon class="f" points="1281.6,54.4 1252.2,49.3 1252.2,59.5"/>
<line x1="909.4" y1="94.0" x2="962.6" y2="94.0"/>
<line x1="909.4" y1="315.0" x2="962.6" y2="315.0"/>
<line x1="927.0" y1="94.0" x2="927.0" y2="315.0"/>
<polygon class="f" points="927.0,94.0 921.9,123.4 932.1,123.4"/>
<polygon class="f" points="927.0,315.0 932.1,285.6 921.9,285.6"/>
<line x1="1262.0" y1="127.0" x2="1334.0" y2="127.0"/>
<line x1="1262.0" y1="281.6" x2="1334.0" y2="281.6"/>
<line x1="1316.4" y1="127.0" x2="1316.4" y2="281.6"/>
<polygon class="f" points="1316.4,127.0 1311.3,156.4 1321.5,156.4"/>
<polygon class="f" points="1316.4,281.6 1321.5,252.2 1311.3,252.2"/>
<line x1="972.4" y1="340.0" x2="972.4" y2="371.0"/>
<line x1="1133.0" y1="340.0" x2="1133.0" y2="435.0"/>
<line x1="972.4" y1="358.0" x2="1133.0" y2="358.0"/>
<polygon class="f" points="972.4,358.0 1001.8,363.1 1001.8,352.9"/>
<polygon class="f" points="1133.0,358.0 1103.6,352.9 1103.6,363.1"/>
<line x1="919.2" y1="380.0" x2="919.2" y2="601.4"/>
<line x1="901.6" y1="437.4" x2="1125.4" y2="437.4"/>
<line x1="901.6" y1="490.8" x2="996.6" y2="490.8"/>
<line x1="996.6" y1="490.8" x2="1056.0" y2="490.8" stroke="#aaa"/>
<line x1="1061.6" y1="490.8" x2="1065.8" y2="490.8" stroke="#666"/>
<line x1="1070.0" y1="490.8" x2="1079.6" y2="490.8" stroke="#666"/>
<line x1="901.6" y1="544.4" x2="1119.5" y2="544.4"/>
<polygon class="f" points="919.2,437.4 924.3,408.0 914.1,408.0"/>
<polygon class="f" points="919.2,490.6 924.3,461.2 914.1,461.2"/>
<polygon class="f" points="919.2,490.6 914.1,520.0 924.3,520.0"/>
<polygon class="f" points="919.2,544.4 914.1,573.8 924.3,573.8"/>
<line x1="1130.5" y1="434.5" x2="1186.0" y2="350.4"/>
<line x1="1186.0" y1="350.4" x2="1222.0" y2="350.4"/>
<polygon class="f" points="1131.5,433.0 1152.0,411.3 1143.4,405.7"/>
</g>
<g class="l" stroke-width="1.05">
<line x1="98.0" y1="238.4" x2="122.4" y2="238.4"/>
<line x1="126.5" y1="238.4" x2="130.0" y2="238.4"/>
<line x1="133.4" y1="238.4" x2="144.5" y2="238.4"/>
<line x1="148.7" y1="238.4" x2="160.0" y2="238.4"/>
<line x1="160.0" y1="238.3" x2="480.0" y2="238.3" stroke="#333"/>
<line x1="160.0" y1="238.3" x2="480.0" y2="238.3" stroke="#000" stroke-dasharray="3.5 3.2 11.8 3.2" stroke-width="1.1"/>
<line x1="480.0" y1="238.4" x2="588.0" y2="238.4"/>
<line x1="91.2" y1="582.4" x2="530.0" y2="582.4" stroke="#111" stroke-dasharray="3.5 3.2 11.8 3.2" stroke-width="1.2"/>
<line x1="74.0" y1="922.2" x2="549.0" y2="922.2" stroke="#444" stroke-dasharray="3.5 3.2 11.8 3.2" stroke-width="1.3"/>
</g>
<g>
<text x="174.5" y="92.3" text-anchor="middle" font-size="37.2" textLength="33.2" lengthAdjust="spacingAndGlyphs">11</text>
<text x="303.0" y="92.3" text-anchor="middle" font-size="37.2" textLength="62.3" lengthAdjust="spacingAndGlyphs">32.4</text>
<text transform="translate(109.1,214.8) rotate(-90)" text-anchor="middle" font-size="37.2" textLength="17.8" lengthAdjust="spacingAndGlyphs">8</text>
<text transform="translate(109.1,267.3) rotate(-90)" text-anchor="middle" font-size="37.2" textLength="44.5" lengthAdjust="spacingAndGlyphs">9.5</text>
<text transform="translate(498.1,264.8) rotate(-90)" text-anchor="middle" font-size="37.2" textLength="44.5" lengthAdjust="spacingAndGlyphs">7.5</text>
<text transform="translate(565.1,179.3) rotate(-90)" text-anchor="middle" font-size="37.2" textLength="62.3" lengthAdjust="spacingAndGlyphs">19.6</text>
<text transform="translate(564.1,299.8) rotate(-90)" text-anchor="middle" font-size="37.2" textLength="62.3" lengthAdjust="spacingAndGlyphs">20.2</text>
<text x="245.0" y="393.7" text-anchor="middle" font-size="37.2" textLength="62.3" lengthAdjust="spacingAndGlyphs">34.8</text>
<text x="309.0" y="447.3" text-anchor="middle" font-size="37.2" textLength="62.3" lengthAdjust="spacingAndGlyphs">56.4</text>
<text transform="translate(114.1,538.3) rotate(-90)" text-anchor="middle" font-size="37.2" textLength="62.3" lengthAdjust="spacingAndGlyphs">14.8</text>
<text transform="translate(114.1,626.3) rotate(-90)" text-anchor="middle" font-size="37.2" textLength="62.3" lengthAdjust="spacingAndGlyphs">14.8</text>
<text x="245.0" y="772.3" text-anchor="middle" font-size="37.2" textLength="62.3" lengthAdjust="spacingAndGlyphs">34.8</text>
<text transform="translate(97.1,895.3) rotate(-90)" text-anchor="middle" font-size="37.2" textLength="44.5" lengthAdjust="spacingAndGlyphs">9.5</text>
<text transform="translate(97.1,946.3) rotate(-90)" text-anchor="middle" font-size="37.2" textLength="17.8" lengthAdjust="spacingAndGlyphs">8</text>
<text transform="translate(503.1,883.3) rotate(-90)" text-anchor="middle" font-size="37.2" textLength="44.5" lengthAdjust="spacingAndGlyphs">7.5</text>
<text x="174.5" y="1067.3" text-anchor="middle" font-size="37.2" textLength="33.2" lengthAdjust="spacingAndGlyphs">11</text>
<text x="303.0" y="1067.3" text-anchor="middle" font-size="37.2" textLength="62.3" lengthAdjust="spacingAndGlyphs">32.4</text>
<text x="1126.5" y="49.3" text-anchor="middle" font-size="37.2" textLength="62.3" lengthAdjust="spacingAndGlyphs">51.9</text>
<text transform="translate(922.1,205.8) rotate(-90)" text-anchor="middle" font-size="37.2" textLength="62.3" lengthAdjust="spacingAndGlyphs">37.1</text>
<text transform="translate(1311.1,205.8) rotate(-90)" text-anchor="middle" font-size="37.2" textLength="35.6" lengthAdjust="spacingAndGlyphs">26</text>
<text x="1052.0" y="352.3" text-anchor="middle" font-size="37.2" textLength="62.3" lengthAdjust="spacingAndGlyphs">26.9</text>
<text transform="translate(913.1,464.8) rotate(-90)" text-anchor="middle" font-size="37.2" textLength="17.8" lengthAdjust="spacingAndGlyphs">9</text>
<text transform="translate(913.1,518.8) rotate(-90)" text-anchor="middle" font-size="37.2" textLength="17.8" lengthAdjust="spacingAndGlyphs">9</text>
</g>
<g>
<text x="458.0" y="406.9" text-anchor="start" font-size="37.2" textLength="28.5" lengthAdjust="spacingAndGlyphs">3-</text>
<text x="519.0" y="406.9" text-anchor="start" font-size="37.2" textLength="60.5" lengthAdjust="spacingAndGlyphs">1.35</text>
<text x="622.0" y="406.9" text-anchor="start" font-size="37.2" textLength="96.0" lengthAdjust="spacingAndGlyphs">4.5MM</text>
</g>
<g class="l" stroke-width="1" stroke="#222">
<circle cx="499.0" cy="394.4" r="11.4"/>
<line x1="489.0" y1="411.6" x2="509.0" y2="376.4"/>
<line x1="587.5" y1="381.2" x2="613.5" y2="381.2"/>
<line x1="600.5" y1="381.2" x2="600.5" y2="406.0"/>
<polyline points="591.0,392.0 600.5,406.0 610.0,392.0"/>
</g>
<g>
<text x="473.4" y="791.3" text-anchor="start" font-size="37.2" textLength="28.5" lengthAdjust="spacingAndGlyphs">3-</text>
<text x="534.4" y="791.3" text-anchor="start" font-size="37.2" textLength="60.5" lengthAdjust="spacingAndGlyphs">1.35</text>
<text x="637.4" y="791.3" text-anchor="start" font-size="37.2" textLength="96.0" lengthAdjust="spacingAndGlyphs">4.5MM</text>
</g>
<g class="l" stroke-width="1" stroke="#222">
<circle cx="514.4" cy="778.8" r="11.4"/>
<line x1="504.4" y1="796.0" x2="524.4" y2="760.8"/>
<line x1="602.9" y1="765.6" x2="628.9" y2="765.6"/>
<line x1="615.9" y1="765.6" x2="615.9" y2="790.4"/>
<polyline points="606.4,776.4 615.9,790.4 625.4,776.4"/>
</g>
<g>
<text x="1224.0" y="363.7" text-anchor="start" font-size="37.2" textLength="103.5" lengthAdjust="spacingAndGlyphs">M1.7X8</text>
<text x="1364.5" y="363.7" text-anchor="start" font-size="37.2" textLength="68.0" lengthAdjust="spacingAndGlyphs">3MM</text>
</g>
<g class="l" stroke-width="2.2">
<line x1="1338.0" y1="340.4" x2="1362.0" y2="340.4"/>
<line x1="1350.0" y1="340.4" x2="1350.0" y2="360.5"/>
<polyline points="1342.5,352 1350,361 1357.5,352"/>
</g>
</svg>
</body>
</html>
